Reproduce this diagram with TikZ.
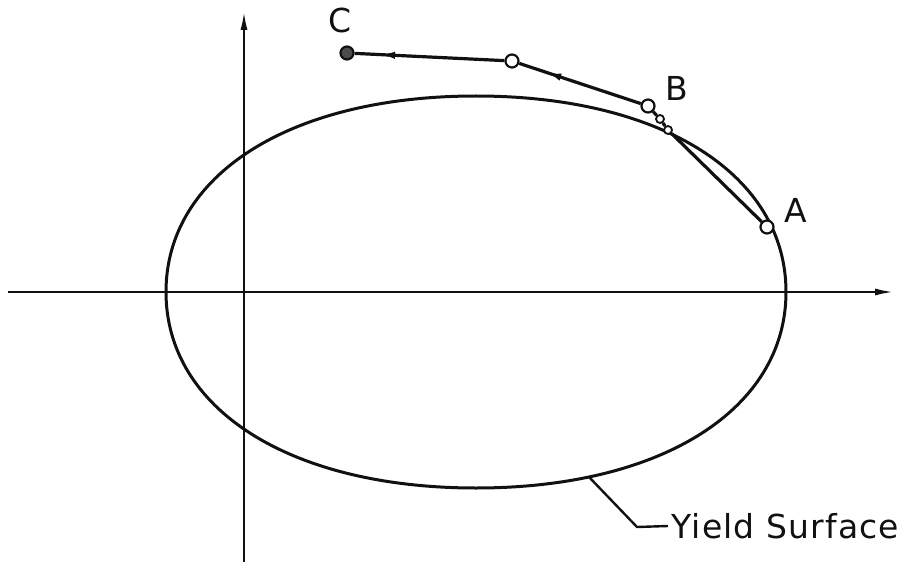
\documentclass[tikz,border=0pt]{standalone}
\usepackage{fontspec}
\setsansfont[LetterSpace=3.5]{DejaVu Sans}
\usepackage{xcolor}
\usetikzlibrary{arrows.meta,calc,decorations.markings}
\definecolor{ink}   {HTML}{111111}
\definecolor{paper} {HTML}{FFFFFF}
\tikzset{
  axis/.style  = {draw=ink, line width=2.6pt, -{Latex[length=20pt,width=7pt]}},
  curve/.style = {draw=ink, line width=3pt},
  path/.style  = {draw=ink, line width=3.2pt},
  pt/.style    = {circle, draw=ink, fill=paper, line width=2.2pt,
                  inner sep=0pt, minimum size=13pt},
  ptend/.style = {pt, fill=ink!75},
  dot/.style   = {pt, minimum size=8pt, line width=1.8pt},
  flow/.style  = {postaction={decorate, decoration={markings,
                  mark=at position #1 with {\arrow{Latex[length=18pt,width=7pt]}}}}},
  lbl/.style   = {font=\sffamily\fontsize{33}{34}\selectfont, text=ink},
  lead/.style  = {draw=ink, line width=2.4pt},
}
\begin{document}
\begin{tikzpicture}[x=1pt, y=-1pt]
  \useasboundingbox (0,0) rectangle (915,564);

  % axes
  \draw[axis] (244,562) -- (244,10);
  \draw[axis] (8,292) -- (895,292);

  % yield surface (a little fuller than an ellipse)
  \draw[curve] (786,292) .. controls (786,175) and (662,96) .. (476,96)
                         .. controls (290,96) and (166,175) .. (166,292)
                         .. controls (166,409) and (290,488) .. (476,488)
                         .. controls (662,488) and (786,409) .. cycle;

  % stress path
  \node[pt]    (pA) at (767,227) {};
  \node[dot]   (p1) at (668,130) {};
  \node[dot]   (p2) at (660,119) {};
  \node[pt]    (pB) at (648,106) {};
  \node[pt]    (pM) at (512,61)  {};
  \node[ptend] (pC) at (347,53)  {};
  \draw[path] (pA) -- (p1) -- (p2) -- (pB);
  \draw[path, flow=0.8] (pB) -- (pM);
  \draw[path, flow=0.85] (pM) -- (pC);

  \node[lbl] (lA) at (796,210) {A};
  \node[lbl] (lB) at (677,88)  {B};
  \node[lbl] (lC) at (340,20)  {C};

  % leader
  \node[lbl, anchor=west] (ylabel) at (668,526) {Yield Surface};
  \coordinate (yfoot) at (589,477);
  \coordinate (ybend) at (637,527);
  \draw[lead] (yfoot) -- (ybend) -- (ylabel.west);
\end{tikzpicture}
\end{document}
